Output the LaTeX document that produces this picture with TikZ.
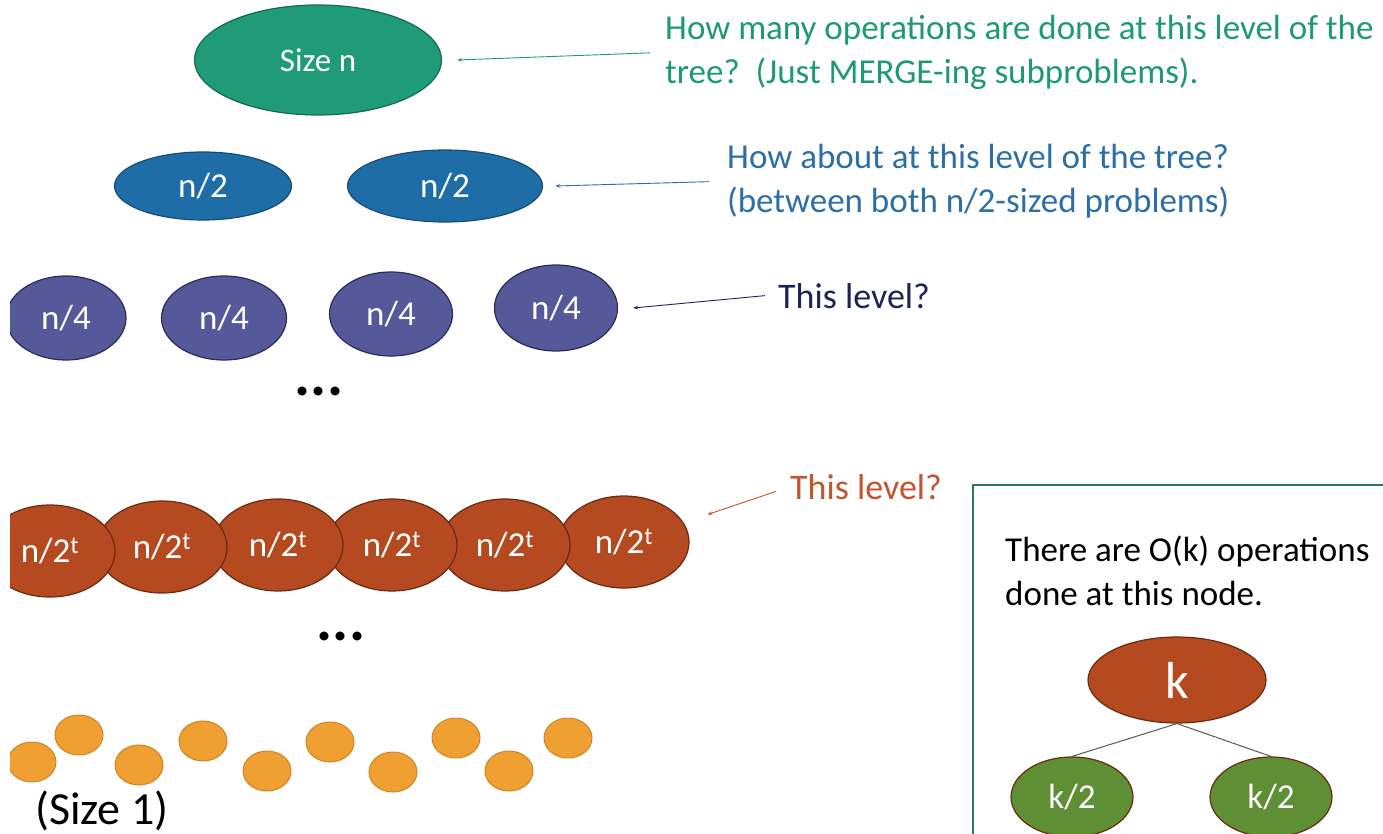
\documentclass[tikz,border=0pt]{standalone}
\usepackage{fontspec}
\setmainfont{Carlito}
\usetikzlibrary{shapes.geometric, arrows.meta}
\definecolor{RootGreen}{HTML}{1F9C77}
\definecolor{RootEdge}{HTML}{17694F}
\definecolor{HalfBlue}{HTML}{1F6DA6}
\definecolor{HalfEdge}{HTML}{174C75}
\definecolor{QuarterPurple}{HTML}{555899}
\definecolor{QuarterEdge}{HTML}{2A2C5A}
\definecolor{DeepRust}{HTML}{B5491F}
\definecolor{DeepEdge}{HTML}{6A2B12}
\definecolor{LeafOrange}{HTML}{F0A032}
\definecolor{LeafEdge}{HTML}{CC8626}
\definecolor{KidGreen}{HTML}{5F8F35}
\definecolor{AskGreen}{HTML}{1E9A72}
\definecolor{AskBlue}{HTML}{2B6EA8}
\definecolor{AskNavy}{HTML}{1A2456}
\definecolor{AskRust}{HTML}{C0552E}
\definecolor{PanelEdge}{HTML}{2E7768}

\begin{document}
\begin{tikzpicture}[x=1pt, y=-1pt,
    blob/.style={ellipse, draw, line width=1.2pt, inner sep=0pt, text=white,
      font=\fontsize{35}{40}\selectfont},
    ask/.style={anchor=base west, align=left, inner sep=0pt,
      font=\fontsize{35}{44}\selectfont},
    pointer/.style={-{Stealth[length=5pt, width=3.5pt]}, line width=0.9pt},
    leaf/.style={ellipse, fill=LeafOrange, draw=LeafEdge, line width=1pt,
      minimum width=48pt, minimum height=40pt, inner sep=0pt},
    more/.style={font=\fontsize{60}{60}\selectfont\bfseries, anchor=base, inner sep=0pt}]
  \useasboundingbox (0,0) rectangle (1383,834);
  \clip (10,0) rectangle (1383,834);

  % Top of the tree
  \node[blob, fill=RootGreen, draw=RootEdge, minimum width=247pt, minimum height=110pt,
    font=\fontsize{33}{40}\selectfont] (root) at (318,60) {Size n};
  % Halves
  \node[blob, fill=HalfBlue, draw=HalfEdge, minimum width=177pt, minimum height=68pt] (h1) at (203,186) {n/2};
  \node[blob, fill=HalfBlue, draw=HalfEdge, minimum width=195pt, minimum height=72pt] (h2) at (445,186) {n/2};
  % Quarters
  \node[blob, fill=QuarterPurple, draw=QuarterEdge, minimum width=120pt, minimum height=84pt] (q1) at (66,318) {n/4};
  \node[blob, fill=QuarterPurple, draw=QuarterEdge, minimum width=125pt, minimum height=84pt] (q2) at (224,318) {n/4};
  \node[blob, fill=QuarterPurple, draw=QuarterEdge, minimum width=123pt, minimum height=84pt] (q3) at (391,314) {n/4};
  \node[blob, fill=QuarterPurple, draw=QuarterEdge, minimum width=123pt, minimum height=86pt] (q4) at (556,308) {n/4};
  \node[more] (gap1) at (319,395) {...};

  % Level t, drawn right to left so each one lies over its right neighbour
  \foreach \i/\x/\y in {6/624/542, 5/505/545, 4/392/545, 3/278/545, 2/162/547, 1/50/551}
    \node[blob, fill=DeepRust, draw=DeepEdge, minimum width=130pt, minimum height=92pt] (t\i) at (\x,\y) {n/2\textsuperscript{t}};
  \node[more] (gap2) at (341,640) {...};

  % Leaves
  \foreach \i/\x/\y in {1/32/762, 2/79/735, 3/139/765, 4/203/741, 5/267/771,
                        6/330/742, 7/393/772, 8/456/738, 9/509/771, 10/568/738}
    \node[leaf] (d\i) at (\x,\y) {};
  \node[anchor=base west, inner sep=0pt, font=\fontsize{46}{50}\selectfont] (sizeone) at (35,824) {(Size 1)};

  % Questions (base anchor sits on the last line)
  \node[ask, text=AskGreen] (askroot) at (665,84)
    {How many operations are done at this level of the\\tree?\ \ (Just MERGE-ing subproblems).};
  \node[ask, text=AskBlue] (askhalf) at (727,213)
    {How about at this level of the tree?\\(between both n/2-sized problems)};
  \node[ask, text=AskNavy, font=\fontsize{36}{44}\selectfont] (askquarter) at (778,308) {This level?};
  \node[ask, text=AskRust, font=\fontsize{36}{44}\selectfont] (askdeep) at (790,499) {This level?};
  \draw[pointer, AskGreen] ([xshift=-15pt]askroot.west) -- ([xshift=15pt]root.east);
  \draw[pointer, AskBlue] ([xshift=-18pt]askhalf.west) -- ([xshift=12pt]h2.east);
  \draw[pointer, AskNavy] ([xshift=-13pt]askquarter.west) -- ([xshift=15pt]q4.east);
  \draw[pointer, AskRust, shorten <=15pt, shorten >=25pt] (askdeep.west) -- (t6.18);

  % Side panel
  \draw[PanelEdge, line width=1.2pt] (973,485) rectangle (1400,850);
  \node[ask] (note) at (1005,605) {There are O(k) operations\\done at this node.};
  \node[blob, fill=DeepRust, draw=DeepEdge, minimum width=178pt, minimum height=86pt,
    font=\fontsize{52}{56}\selectfont] (k) at (1177,680) {k};
  \node[blob, fill=KidGreen, draw=DeepEdge, minimum width=122pt, minimum height=80pt] (kl) at (1072,797) {k/2};
  \node[blob, fill=KidGreen, draw=DeepEdge, minimum width=122pt, minimum height=80pt] (kr) at (1271,797) {k/2};
  \draw[black!65, line width=1pt] (k.south) -- (kl.north);
  \draw[black!65, line width=1pt] (k.south) -- (kr.north);
\end{tikzpicture}
\end{document}
